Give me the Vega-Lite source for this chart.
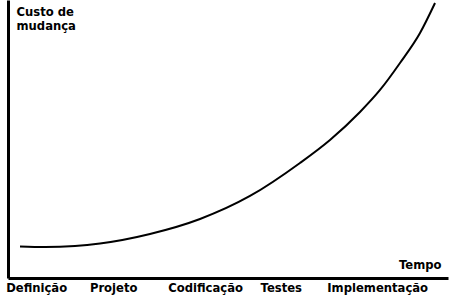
{
  "$schema": "https://vega.github.io/schema/vega-lite/v6.json",
  "width": 440,
  "height": 278,
  "autosize": {"type": "none"},
  "padding": {"left": 8, "top": 0, "right": 3, "bottom": 22},
  "background": "white",
  "config": {
    "view": {"stroke": null},
    "font": "DejaVu Sans"
  },
  "data": {
    "values": [
      {"tempo": 2.73, "custo": 11.33},
      {"tempo": 8.41, "custo": 11.15},
      {"tempo": 15.23, "custo": 11.51},
      {"tempo": 20.91, "custo": 12.41},
      {"tempo": 32.27, "custo": 15.83},
      {"tempo": 43.64, "custo": 21.22},
      {"tempo": 55.0, "custo": 29.5},
      {"tempo": 66.36, "custo": 41.37},
      {"tempo": 73.18, "custo": 49.64},
      {"tempo": 80.0, "custo": 59.71},
      {"tempo": 84.55, "custo": 67.63},
      {"tempo": 89.09, "custo": 77.34},
      {"tempo": 93.64, "custo": 88.13},
      {"tempo": 97.05, "custo": 98.92}
    ]
  },
  "mark": {"type": "line", "interpolate": "monotone", "color": "black", "strokeWidth": 2},
  "encoding": {
    "x": {
      "field": "tempo",
      "type": "quantitative",
      "scale": {"domain": [0, 100], "nice": false},
      "axis": {
        "grid": false,
        "ticks": false,
        "domainColor": "black",
        "domainWidth": 3,
        "values": [6.4, 23.9, 44.8, 62.0, 83.9],
        "labelExpr": "['Definição','Projeto','Codificação','Testes','Implementação'][indexof([6.4, 23.9, 44.8, 62.0, 83.9], datum.value)]",
        "labelFont": "DejaVu Sans",
        "labelFontWeight": "bold",
        "labelFontSize": 11.6,
        "labelColor": "black",
        "labelPadding": 4,
        "labelFlush": false,
        "labelOverlap": false,
        "title": "Tempo",
        "titleFont": "DejaVu Sans",
        "titleFontWeight": "bold",
        "titleFontSize": 11.6,
        "titleColor": "black",
        "titleAnchor": "end",
        "titleAlign": "right",
        "titleBaseline": "middle",
        "titleX": 433,
        "titleY": -13
      }
    },
    "y": {
      "field": "custo",
      "type": "quantitative",
      "scale": {"domain": [0, 100], "nice": false},
      "axis": {
        "grid": false,
        "ticks": false,
        "labels": false,
        "domainColor": "black",
        "domainWidth": 3,
        "title": ["Custo de", "mudança"],
        "titleFont": "DejaVu Sans",
        "titleFontWeight": "bold",
        "titleFontSize": 11.6,
        "titleColor": "black",
        "titleAngle": 0,
        "titleAlign": "left",
        "titleBaseline": "top",
        "titleLineHeight": 14,
        "titleX": 8,
        "titleY": 6
      }
    }
  }
}
